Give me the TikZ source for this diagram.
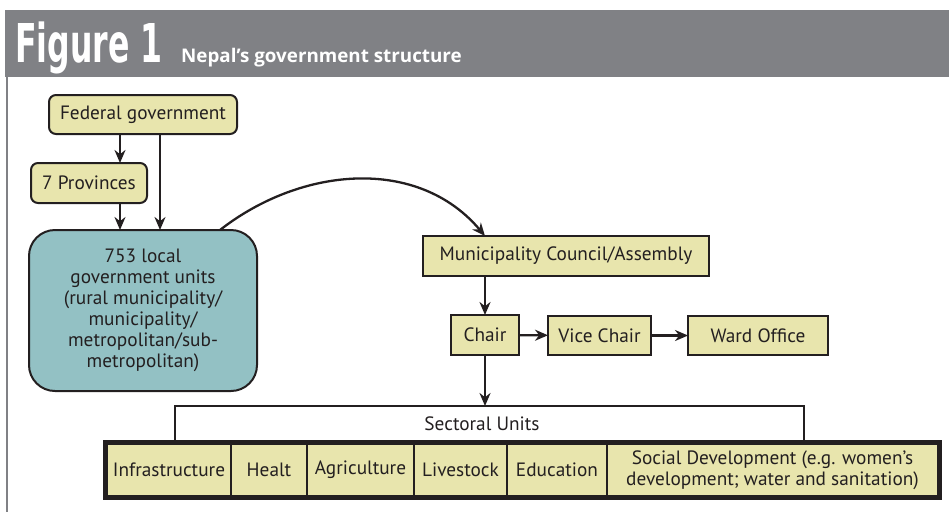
\documentclass[tikz,border=0pt]{standalone}
\usepackage{fontspec}
\setmainfont{PT Sans}
\newfontfamily\headfont{DejaVu Sans}
\newfontfamily\subfont{Open Sans}
\usetikzlibrary{calc,positioning,arrows.meta,fit}
\definecolor{headgrey}{HTML}{808185}
\definecolor{boxyellow}{HTML}{E8E5AD}
\definecolor{boxteal}{HTML}{93C1C4}
\definecolor{ink}{HTML}{231F20}

\begin{document}
\begin{tikzpicture}[x=1pt,y=-1pt,>={Stealth[length=13pt,width=11pt]},
  font=\fontsize{19.3}{21}\selectfont,
  arr/.style={->,draw=ink,line width=2.3pt},
  link/.style={draw=ink,line width=2pt},
  rbox/.style={draw=ink,line width=2pt,fill=boxyellow,rounded corners=7pt,inner sep=0pt,outer sep=0pt,text=ink},
  sbox/.style={draw=ink,line width=2pt,fill=boxyellow,inner sep=0pt,outer sep=0pt,text=ink},
  cell/.style={draw=ink,line width=2pt,fill=boxyellow,inner sep=0pt,outer sep=0pt,text=ink,minimum height=52pt,align=center}]
  \useasboundingbox (0,0) rectangle (949,512);
  % --- header band ---
  \fill[headgrey] (5,10) rectangle (949,77);
  \draw[headgrey,line width=2.2pt] (7,77) -- (7,512);
  \node[anchor=base west,text=white,inner sep=0pt] (fig) at (15,62)
    {\headfont\bfseries\fontsize{53.5}{54}\selectfont\scalebox{0.59}[1]{Figure 1}};
  \node[anchor=base west,text=white,inner sep=0pt] (title) at (181,62)
    {\subfont\bfseries\fontsize{18.8}{20}\selectfont Nepal’s government structure};
  % --- upper tiers ---
  \node[rbox,minimum width=188pt,minimum height=39pt] (fed) at (143,114.5) {Federal government};
  \node[rbox,minimum width=116pt,minimum height=40pt] (prov) at (89,183) {7 Provinces};
  \node[rbox,fill=boxteal,rounded corners=26pt,minimum width=228pt,minimum height=161pt,
    align=center] (local) at (143,310.5)
    {753 local\\government units\\(rural municipality/\\municipality/\\metropolitan/sub-\\metropolitan)};
  \draw[arr] ([xshift=-23pt]fed.south) -- ([xshift=-23pt]fed.south |- prov.north);
  \draw[arr] ([xshift=17pt]fed.south) -- ([xshift=17pt]fed.south |- local.north);
  \draw[arr] ([xshift=31pt]prov.south) -- ([xshift=31pt]prov.south |- local.north);
  % --- municipality ---
  \node[sbox,minimum width=286pt,minimum height=40pt] (mun) at (566,256) {Municipality Council/Assembly};
  \node[sbox,minimum width=68pt,minimum height=40pt] (chair) at (485,335) {Chair};
  \node[sbox,minimum width=103pt,minimum height=39pt] (vice) at (599.5,335.5) {Vice Chair};
  \node[sbox,minimum width=140pt,minimum height=39pt] (ward) at (758,335.5) {Ward Office};
  \draw[arr] ([xshift=77pt]local.north) to[out=38,in=130] ([xshift=-81pt]mun.north);
  \draw[arr] (mun.south -| chair) -- (chair.north);
  \draw[arr] (chair) -- (vice);
  \draw[arr] (vice) -- (ward);
  % --- sectoral units ---
  \coordinate (bkl) at (175,440);
  \coordinate (bkr) at (804,440);
  \coordinate (bkt) at (485,406);
  \draw[link] (bkl) |- (bkt) -| (bkr);
  \draw[arr] (chair.south) -- (bkt);
  \node[text=ink] (sect) at (482,424) {Sectoral Units};
  \node[cell,minimum width=124pt,anchor=west] (c1) at (107,470) {Infrastructure};
  \node[cell,minimum width=76pt,right=0pt of c1] (c2) {Healt};
  \node[cell,minimum width=107pt,right=0pt of c2] (c3) {Agriculture};
  \node[cell,minimum width=93pt,right=0pt of c3] (c4) {Livestock};
  \node[cell,minimum width=100pt,right=0pt of c4] (c5) {Education};
  \node[cell,minimum width=331pt,right=0pt of c5] (c6) {Social Development (e.g. women's\\development; water and sanitation)};
  \node[draw=ink,line width=3pt,inner sep=2.5pt,fit=(c1)(c6)] (row) {};
\end{tikzpicture}
\end{document}
